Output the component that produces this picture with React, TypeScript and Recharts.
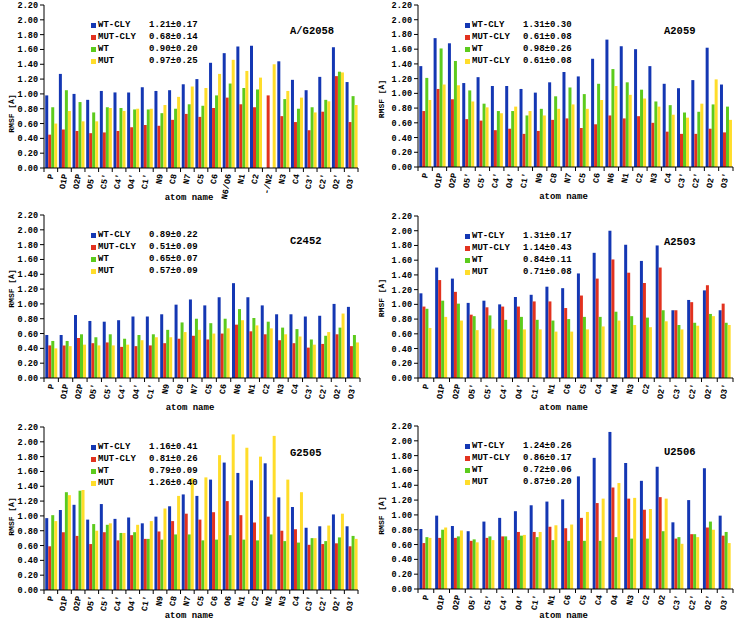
import { BarChart, Bar, XAxis, YAxis } from "recharts";

const FONT = '"Liberation Mono", "DejaVu Sans Mono", monospace';
const COLORS = ["#1437b3", "#e2321f", "#5ccb1d", "#ffdd2a"];
const Y_TICKS = [0, 0.2, 0.4, 0.6, 0.8, 1.0, 1.2, 1.4, 1.6, 1.8, 2.0, 2.2];
const NAMES = ["WT-CLY", "MUT-CLY", "WT", "MUT"];

// A/G2058
const atomsA2058 = ["P", "O1P", "O2P", "O5'", "C5'", "C4'", "O4'", "C1'", "N9", "C8", "N7", "C5", "C6", "N6/O6", "N1", "C2", "-/N2", "N3", "C4", "C3'", "C2'", "O2'", "O3'"];
const wtClyA2058 = [0.98, 1.27, 1.0, 0.92, 1.04, 1.02, 1.02, 1.09, 1.04, 1.05, 1.13, 1.2, 1.42, 1.55, 1.64, 1.65, null, 1.44, 1.19, 1.05, 1.23, 1.63, 1.16];
const mutClyA2058 = [0.45, 0.52, 0.5, 0.47, 0.48, 0.5, 0.55, 0.58, 0.57, 0.65, 0.73, 0.69, 0.81, 0.95, 0.86, 0.82, 0.98, 0.7, 0.62, 0.51, 0.76, 1.24, 0.62];
const wtA2058 = [0.82, 1.05, 0.89, 0.75, 0.82, 0.81, 0.79, 0.79, 0.74, 0.8, 0.86, 0.84, 0.98, 1.14, 1.08, 1.06, null, 0.93, 0.8, 0.82, 0.92, 1.3, 0.97];
const mutA2058 = [0.6, 0.77, 0.63, 0.63, 0.81, 0.77, 0.8, 0.8, 0.85, 0.96, 1.1, 1.08, 1.27, 1.46, 1.31, 1.22, 1.4, 1.04, 0.95, 0.75, 0.9, 1.29, 0.85];
const statsA2058 = ["1.21±0.17", "0.68±0.14", "0.90±0.20", "0.97±0.25"];

// A2059
const atomsA2059 = ["P", "O1P", "O2P", "O5'", "C5'", "C4'", "O4'", "C1'", "N9", "C8", "N7", "C5", "C6", "N6", "N1", "C2", "N3", "C4", "C3'", "C2'", "O2'", "O3'"];
const wtClyA2059 = [1.37, 1.75, 1.68, 1.14, 1.22, 1.1, 1.1, 1.06, 1.01, 1.15, 1.29, 1.23, 1.47, 1.73, 1.64, 1.6, 1.37, 1.13, 1.07, 1.18, 1.62, 1.12];
const mutClyA2059 = [0.76, 1.06, 0.92, 0.65, 0.63, 0.5, 0.52, 0.45, 0.49, 0.64, 0.66, 0.53, 0.58, 0.7, 0.66, 0.69, 0.6, 0.48, 0.45, 0.45, 0.52, 0.47];
const wtA2059 = [1.21, 1.61, 1.44, 1.04, 0.86, 0.76, 0.76, 0.7, 0.79, 0.96, 1.08, 0.99, 1.13, 1.33, 1.15, 1.05, 0.89, 0.84, 0.74, 0.75, 0.85, 0.82];
const mutA2059 = [0.91, 1.12, 1.11, 0.89, 0.81, 0.73, 0.82, 0.76, 0.7, 0.79, 0.85, 0.79, 0.91, 1.1, 0.98, 0.93, 0.82, 0.71, 0.67, 0.86, 1.19, 0.64];
const statsA2059 = ["1.31±0.30", "0.61±0.08", "0.98±0.26", "0.61±0.08"];
const namesA2059 = ["WT-CLY", "MUT-CLY", "WT", "MUT-CLY"];

// C2452
const atomsC2452 = ["P", "O1P", "O2P", "O5'", "C5'", "C4'", "O4'", "C1'", "N9", "C8", "N7", "C5", "C6", "N6", "N1", "C2", "N3", "C4", "C3'", "C2'", "O2'", "O3'"];
const wtClyC2452 = [0.58, 0.58, 0.85, 0.77, 0.76, 0.78, 0.83, 0.83, 0.86, 0.99, 1.06, 0.98, 1.09, 1.28, 1.09, 0.98, 0.86, 0.86, 0.83, 0.84, 1.0, 0.96];
const mutClyC2452 = [0.44, 0.44, 0.54, 0.47, 0.48, 0.42, 0.43, 0.44, 0.47, 0.53, 0.57, 0.52, 0.6, 0.72, 0.63, 0.59, 0.51, 0.47, 0.41, 0.46, 0.59, 0.43];
const wtC2452 = [0.5, 0.5, 0.59, 0.55, 0.59, 0.53, 0.58, 0.59, 0.65, 0.75, 0.8, 0.74, 0.8, 0.93, 0.81, 0.76, 0.68, 0.66, 0.52, 0.57, 0.68, 0.58];
const mutC2452 = [0.4, 0.43, 0.45, 0.44, 0.44, 0.45, 0.51, 0.55, 0.55, 0.62, 0.65, 0.6, 0.67, 0.78, 0.71, 0.67, 0.59, 0.56, 0.45, 0.62, 0.87, 0.48];
const statsC2452 = ["0.89±0.22", "0.51±0.09", "0.65±0.07", "0.57±0.09"];

// A2503
const atomsA2503 = ["P", "O1P", "O2P", "O5'", "C5'", "C4'", "O4'", "C1'", "N1", "C6", "C5", "C4", "N4", "N3", "C2", "O2'", "C3'", "C2'", "O2'", "O3'"];
const wtClyA2503 = [1.15, 1.5, 1.35, 1.02, 1.05, 1.0, 1.1, 1.13, 1.24, 1.22, 1.42, 1.7, 2.0, 1.81, 1.59, 1.8, 0.92, 1.06, 1.19, 0.92];
const mutClyA2503 = [0.97, 1.33, 1.17, 0.86, 0.96, 0.97, 0.97, 1.04, 1.04, 0.95, 1.12, 1.35, 1.61, 1.43, 1.29, 1.5, 0.92, 1.03, 1.26, 1.01];
const wtA2503 = [0.94, 1.05, 1.01, 0.84, 0.85, 0.79, 0.83, 0.79, 0.78, 0.8, 0.83, 0.83, 0.9, 0.84, 0.82, 0.92, 0.72, 0.75, 0.87, 0.75];
const mutA2503 = [0.68, 0.83, 0.78, 0.65, 0.67, 0.66, 0.66, 0.66, 0.63, 0.63, 0.66, 0.7, 0.78, 0.72, 0.69, 0.77, 0.66, 0.71, 0.84, 0.72];
const statsA2503 = ["1.31±0.17", "1.14±0.43", "0.84±0.11", "0.71±0.08"];

// G2505
const atomsG2505 = ["P", "O1P", "O2P", "O5'", "C5'", "C4'", "O4'", "C1'", "N9", "C8", "N7", "C5", "C6", "O6", "N1", "C2", "N2", "N3", "C4", "C3'", "C2'", "O2'", "O3'"];
const wtClyG2505 = [0.97, 1.08, 1.15, 0.95, 1.16, 0.96, 0.98, 0.9, 0.99, 1.13, 1.29, 1.27, 1.49, 1.72, 1.58, 1.48, 1.71, 1.25, 1.12, 0.84, 0.86, 1.02, 0.86];
const mutClyG2505 = [0.59, 0.78, 0.73, 0.62, 0.78, 0.67, 0.74, 0.69, 0.79, 0.93, 1.03, 0.95, 1.05, 1.2, 1.01, 0.91, 0.99, 0.8, 0.82, 0.61, 0.62, 0.63, 0.59];
const wtG2505 = [1.01, 1.32, 1.34, 0.89, 0.88, 0.77, 0.78, 0.69, 0.68, 0.75, 0.75, 0.67, 0.68, 0.74, 0.68, 0.67, 0.75, 0.66, 0.64, 0.7, 0.66, 0.71, 0.73];
const mutG2505 = [0.93, 1.28, 1.35, 0.8, 0.9, 0.77, 0.88, 0.93, 1.1, 1.27, 1.51, 1.52, 1.82, 2.1, 1.92, 1.8, 2.08, 1.49, 1.32, 0.7, 0.87, 1.03, 0.69];
const statsG2505 = ["1.16±0.41", "0.81±0.26", "0.79±0.09", "1.26±0.40"];

// U2506
const atomsU2506 = ["P", "O1P", "O2P", "O5'", "C5'", "C4'", "O4'", "C1'", "N1", "C6", "C5", "C4", "O4", "N3", "C2", "O2", "C3'", "C2'", "O2'", "O3'"];
const wtClyU2506 = [0.81, 0.99, 0.85, 0.78, 0.91, 0.96, 1.05, 1.13, 1.18, 1.21, 1.52, 1.77, 2.12, 1.7, 1.46, 1.65, 0.9, 1.2, 1.63, 0.99];
const mutClyU2506 = [0.62, 0.69, 0.69, 0.65, 0.69, 0.71, 0.77, 0.77, 0.84, 0.82, 0.96, 1.16, 1.37, 1.22, 1.07, 1.24, 0.68, 0.74, 0.83, 0.72];
const wtU2506 = [0.7, 0.8, 0.71, 0.67, 0.71, 0.71, 0.72, 0.7, 0.66, 0.65, 0.65, 0.65, 0.7, 0.68, 0.68, 0.78, 0.7, 0.74, 0.91, 0.77];
const mutU2506 = [0.69, 0.83, 0.79, 0.63, 0.66, 0.66, 0.73, 0.77, 0.86, 0.87, 1.04, 1.22, 1.43, 1.23, 1.08, 1.22, 0.61, 0.7, 0.8, 0.62];
const statsU2506 = ["1.24±0.26", "0.86±0.17", "0.72±0.06", "0.87±0.20"];

interface PanelProps {
  title: string;
  atoms: string[];
  series: (number | null)[][];
  names: string[];
  stats: string[];
  left: number;
  top: number;
  axisW: number; // y axis width = plot left
  plotRight: number;
  plotTop: number;
  plotBottom: number;
  labelDy: number;
  xLabelDy: number;
}

const X_AXIS_H = 37;

function buildRows(atoms: string[], series: (number | null)[][]) {
  return atoms.map((atom, i) => ({
    atom,
    s0: series[0][i],
    s1: series[1][i],
    s2: series[2][i],
    s3: series[3][i],
  }));
}

function Panel(p: PanelProps) {
  const data = buildRows(p.atoms, p.series);
  const width = p.plotRight + 1;
  const height = p.plotBottom + X_AXIS_H;
  const band = (p.plotRight - p.axisW) / p.atoms.length;
  const n = p.atoms.length;
  const textStyle = { fontFamily: FONT, fontWeight: 700, fill: "#000" };

  const bottomTick = (t: any) => {
    const ly = p.plotBottom + 6;
    return (
      <g>
        <line x1={t.x - band / 2} x2={t.x - band / 2} y1={p.plotBottom} y2={p.plotBottom + 4} stroke="#000" />
        {t.index === n - 1 && (
          <line x1={t.x + band / 2} x2={t.x + band / 2} y1={p.plotBottom} y2={p.plotBottom + 4} stroke="#000" />
        )}
        <text
          x={t.x}
          y={ly}
          dy="0.35em"
          textAnchor="end"
          transform={`rotate(-80, ${t.x}, ${ly})`}
          fontSize={8.5}
          style={textStyle}
        >
          {t.payload.value}
        </text>
      </g>
    );
  };

  const topTick = (t: any) => (
    <line x1={t.x - band / 2} x2={t.x - band / 2} y1={p.plotTop} y2={p.plotTop + 4} stroke="#000" />
  );

  return (
    <div style={{ position: "absolute", left: p.left, top: p.top, width, height }}>
      <BarChart
        width={width}
        height={height}
        data={data}
        margin={{ top: p.plotTop, right: 1, left: 0, bottom: 0 }}
        barCategoryGap="9%"
        barGap={0}
      >
        <XAxis
          dataKey="atom"
          interval={0}
          height={X_AXIS_H}
          tickLine={false}
          axisLine={{ stroke: "#000" }}
          tick={bottomTick}
          label={(l: any) => (
            <text
              x={l.viewBox.x + l.viewBox.width / 2 - 12}
              y={l.viewBox.y + p.xLabelDy}
              dy="0.35em"
              textAnchor="middle"
              fontSize={9}
              style={textStyle}
            >
              atom name
            </text>
          )}
        />
        <XAxis
          xAxisId="top"
          dataKey="atom"
          orientation="top"
          interval={0}
          height={0}
          tickLine={false}
          axisLine={{ stroke: "#000" }}
          tick={topTick}
        />
        <YAxis
          type="number"
          domain={[0, 2.2]}
          ticks={Y_TICKS}
          interval={0}
          width={p.axisW}
          tickSize={4}
          tickMargin={2}
          tickFormatter={(v: number) => v.toFixed(2)}
          axisLine={{ stroke: "#000" }}
          tickLine={{ stroke: "#000" }}
          tick={{ fontSize: 8.5, fontFamily: FONT, fontWeight: 700, fill: "#000" }}
          label={(l: any) => {
            const cx = l.viewBox.x + 11;
            const cy = l.viewBox.y + l.viewBox.height / 2 + p.labelDy;
            return (
              <text
                x={cx}
                y={cy}
                dy="0.35em"
                textAnchor="middle"
                transform={`rotate(-90, ${cx}, ${cy})`}
                fontSize={8}
                style={textStyle}
              >
                RMSF [Å]
              </text>
            );
          }}
        />
        <YAxis
          yAxisId="right"
          orientation="right"
          type="number"
          domain={[0, 2.2]}
          width={0}
          tick={false}
          tickLine={false}
          axisLine={{ stroke: "#000" }}
        />
        {["s0", "s1", "s2", "s3"].map((k, i) => (
          <Bar key={k} dataKey={k} fill={COLORS[i]} isAnimationActive={false} />
        ))}
      </BarChart>

      {/* legend */}
      {p.names.map((name, i) => (
        <div
          key={i}
          style={{
            position: "absolute",
            left: p.axisW + 47,
            top: p.plotTop + 20 + i * 12 - 6,
            height: 12,
            display: "flex",
            alignItems: "center",
            fontFamily: FONT,
            fontWeight: 700,
            fontSize: 9,
            whiteSpace: "pre",
            lineHeight: "12px",
          }}
        >
          <span style={{ width: 5, height: 5, background: COLORS[i], marginRight: 2 }} />
          <span style={{ width: 51 }}>{name}</span>
          <span>{p.stats[i]}</span>
        </div>
      ))}
      <div
        style={{
          position: "absolute",
          left: p.axisW + 246,
          top: p.plotTop + 26 - 7,
          fontFamily: FONT,
          fontWeight: 700,
          fontSize: 10.5,
          lineHeight: "14px",
        }}
      >
        {p.title}
      </div>
    </div>
  );
}

export default function App() {
  return (
    <div
      style={{
        position: "absolute",
        left: 0,
        top: 0,
        width: 739,
        height: 621,
        overflow: "hidden",
        background: "#fff",
      }}
    >
      <Panel title="A/G2058" atoms={atomsA2058} series={[wtClyA2058, mutClyA2058, wtA2058, mutA2058]} names={NAMES} stats={statsA2058}
        left={0} top={0} axisW={44} plotRight={358} plotTop={5} plotBottom={168} labelDy={27} xLabelDy={29} />
      <Panel title="A2059" atoms={atomsA2059} series={[wtClyA2059, mutClyA2059, wtA2059, mutA2059]} names={namesA2059} stats={statsA2059}
        left={370} top={0} axisW={48} plotRight={363} plotTop={5} plotBottom={167} labelDy={13} xLabelDy={29} />
      <Panel title="C2452" atoms={atomsC2452} series={[wtClyC2452, mutClyC2452, wtC2452, mutC2452]} names={NAMES} stats={statsC2452}
        left={0} top={205} axisW={44} plotRight={360} plotTop={10} plotBottom={173} labelDy={-8} xLabelDy={29} />
      <Panel title="A2503" atoms={atomsA2503} series={[wtClyA2503, mutClyA2503, wtA2503, mutA2503]} names={NAMES} stats={statsA2503}
        left={370} top={205} axisW={48} plotRight={363} plotTop={11} plotBottom={173} labelDy={1} xLabelDy={29} />
      <Panel title="G2505" atoms={atomsG2505} series={[wtClyG2505, mutClyG2505, wtG2505, mutG2505]} names={NAMES} stats={statsG2505}
        left={0} top={410} axisW={44} plotRight={358} plotTop={17} plotBottom={180} labelDy={8} xLabelDy={25} />
      <Panel title="U2506" atoms={atomsU2506} series={[wtClyU2506, mutClyU2506, wtU2506, mutU2506]} names={NAMES} stats={statsU2506}
        left={370} top={410} axisW={48} plotRight={363} plotTop={16} plotBottom={179} labelDy={8} xLabelDy={26} />
    </div>
  );
}
